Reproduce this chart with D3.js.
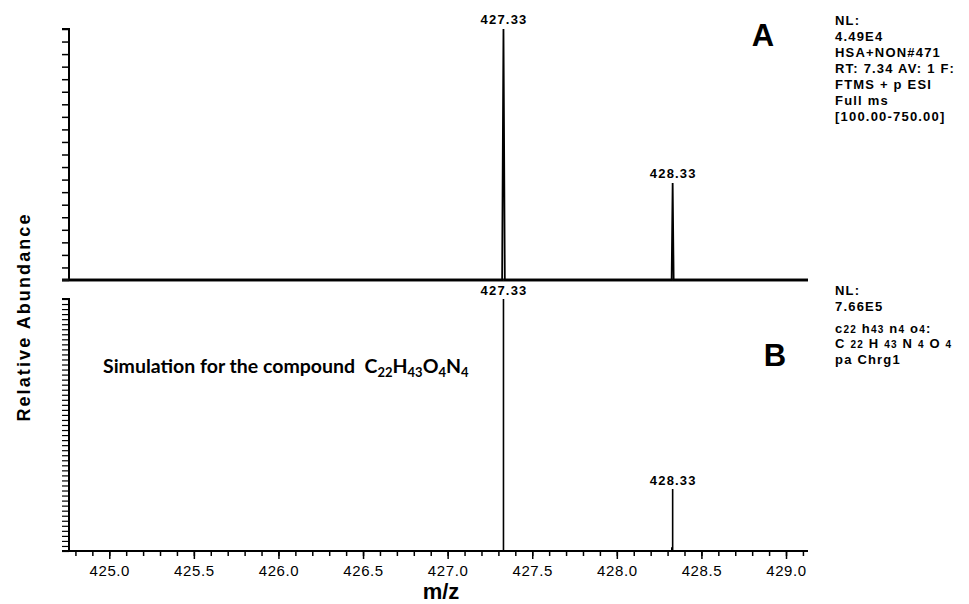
<!DOCTYPE html>
<html>
<head>
<meta charset="utf-8">
<script src="https://cdn.jsdelivr.net/npm/d3@7"></script>
<style>
  body { margin: 0; background: #fff; }
  text { font-family: "Liberation Sans", Arial, sans-serif; font-weight: bold; fill: #000; }
  .wide { font-size: 13px; letter-spacing: 1.2px; }
</style>
</head>
<body>
<div id="chart"></div>
<script>
const mzA = [424.76, 427.322, 427.33, 427.338, 428.324, 428.33, 428.336, 429.13]
const intA = [0, 0, 100, 0, 0, 38.6, 0, 0]
// simulated isotope sticks (B)
const mzB = [427.33, 428.325, 428.33]
const intB = [100, 1.5, 24.6]
// peak labels
const labelsA = [{ mz: 427.33, v: 100, t: '427.33' }, { mz: 428.33, v: 38.6, t: '428.33' }]
const labelsB = [{ mz: 427.33, v: 100, t: '427.33' }, { mz: 428.33, v: 24.6, t: '428.33' }]
const xTicks = [425.0, 425.5, 426.0, 426.5, 427.0, 427.5, 428.0, 428.5, 429.0]
const infoA = ['NL:', '4.49E4', 'HSA+NON#471', 'RT: 7.34  AV: 1 F:', 'FTMS + p ESI', 'Full ms', '[100.00-750.00]']

const W = 969, H = 604
const svg = d3.select('#chart').append('svg').attr('width', W).attr('height', H)

const x = d3.scaleLinear().domain([424.762, 429.13]).range([69, 808])
const yA = d3.scaleLinear().domain([0, 100]).range([280, 29])
const yB = d3.scaleLinear().domain([0, 100]).range([551, 299])

// panel A
const axA = svg.append('g').attr('transform', 'translate(69,0)')
  .call(d3.axisLeft(yA).tickValues(d3.range(0, 101, 5)).tickSize(7).tickFormat(''))
axA.selectAll('line').attr('stroke', '#000').attr('stroke-width', 1.5)
axA.select('.domain').attr('stroke', '#000').attr('stroke-width', 2).attr('d', 'M-7,29H0V280')

svg.append('line').attr('x1', 62).attr('x2', 808).attr('y1', yA(0)).attr('y2', yA(0))
  .attr('stroke', '#111').attr('stroke-width', 3)

const lineA = d3.line().x((d, i) => x(mzA[i])).y((d, i) => yA(intA[i]))
svg.append('path').datum(mzA).attr('d', lineA)
  .attr('fill', 'none').attr('stroke', '#000').attr('stroke-width', 1.8)

svg.selectAll('.labA').data(labelsA).enter().append('text')
  .attr('class', 'wide')
  .attr('x', d => x(d.mz) + 0.6).attr('y', d => yA(d.v) - 5)
  .attr('text-anchor', 'middle').text(d => d.t)

svg.append('text').attr('x', 763).attr('y', 46).attr('text-anchor', 'middle')
  .style('font-size', '31px').text('A')

svg.append('g').selectAll('text').data(infoA).enter().append('text')
  .attr('class', 'wide')
  .attr('x', 835).attr('y', (d, i) => 25 + i * 16).text(d => d)

// panel B
const axB = svg.append('g').attr('transform', 'translate(69,0)')
  .call(d3.axisLeft(yB).tickValues(d3.range(0, 101, 2)).tickSize(7).tickFormat(''))
axB.selectAll('line').attr('stroke', '#000').attr('stroke-width', 1.2)
axB.select('.domain').attr('stroke', '#000').attr('stroke-width', 2).attr('d', 'M-7,299H0V551')

const axX = svg.append('g').attr('transform', 'translate(0,551)')
  .call(d3.axisBottom(x).tickValues(d3.range(424.8, 429.15, 0.1)).tickSize(5).tickFormat(''))
axX.selectAll('line').attr('stroke', '#000').attr('stroke-width', 1.5)
axX.select('.domain').attr('stroke', '#000').attr('stroke-width', 2).attr('d', 'M62,0H808')

const axMaj = svg.append('g').attr('transform', 'translate(0,551)')
  .call(d3.axisBottom(x).tickValues(xTicks).tickSize(8).tickPadding(6).tickFormat(d3.format('.1f')))
axMaj.select('.domain').remove()
axMaj.selectAll('line').attr('stroke', '#000').attr('stroke-width', 1.5)
axMaj.selectAll('text').style('font-weight', 'normal').style('font-size', '15px')
  .style('letter-spacing', '0.6px')
  .style('font-family', '"Liberation Sans", Arial, sans-serif').attr('fill', '#222')

svg.selectAll('.stickB').data(mzB).enter().append('line')
  .attr('x1', d => x(d)).attr('x2', d => x(d))
  .attr('y1', yB(0)).attr('y2', (d, i) => yB(intB[i]))
  .attr('stroke', '#000').attr('stroke-width', 1.6)

svg.selectAll('.labB').data(labelsB).enter().append('text')
  .attr('class', 'wide')
  .attr('x', d => x(d.mz) + 0.6).attr('y', d => yB(d.v) - 4)
  .attr('text-anchor', 'middle').text(d => d.t)

svg.append('text').attr('x', 775).attr('y', 366).attr('text-anchor', 'middle')
  .style('font-size', '31px').text('B')

const infoB = svg.append('g').attr('class', 'wide')
infoB.append('text').attr('x', 835).attr('y', 295).text('NL:')
infoB.append('text').attr('x', 835).attr('y', 311).text('7.66E5')
const f1 = infoB.append('text').attr('x', 835).attr('y', 333)
f1.append('tspan').text('c')
f1.append('tspan').style('font-size', '10px').text('22')
f1.append('tspan').text(' h')
f1.append('tspan').style('font-size', '10px').text('43')
f1.append('tspan').text(' n')
f1.append('tspan').style('font-size', '10px').text('4')
f1.append('tspan').text(' o')
f1.append('tspan').style('font-size', '10px').text('4')
f1.append('tspan').text(':')
const f2 = infoB.append('text').attr('x', 835).attr('y', 348)
f2.append('tspan').text('C ')
f2.append('tspan').style('font-size', '10px').text('22')
f2.append('tspan').text(' H ')
f2.append('tspan').style('font-size', '10px').text('43')
f2.append('tspan').text(' N ')
f2.append('tspan').style('font-size', '10px').text('4')
f2.append('tspan').text(' O ')
f2.append('tspan').style('font-size', '10px').text('4')
infoB.append('text').attr('x', 835).attr('y', 364).text('pa Chrg1')

// simulation note
const sim = svg.append('text').attr('x', 103).attr('y', 373)
  .attr('xml:space', 'preserve')
  .style('font-family', 'Lato, "Open Sans", sans-serif').style('font-size', '19.5px')
  .style('white-space', 'pre')
sim.append('tspan').text('Simulation for the compound  C')
sim.append('tspan').attr('dy', 4).style('font-size', '13px').text('22')
sim.append('tspan').attr('dy', -4).text('H')
sim.append('tspan').attr('dy', 4).style('font-size', '13px').text('43')
sim.append('tspan').attr('dy', -4).text('O')
sim.append('tspan').attr('dy', 4).style('font-size', '13px').text('4')
sim.append('tspan').attr('dy', -4).text('N')
sim.append('tspan').attr('dy', 4).style('font-size', '13px').text('4')

// axis titles
svg.append('text').attr('transform', 'translate(30,317) rotate(-90)')
  .attr('text-anchor', 'middle').style('font-size', '18px').style('letter-spacing', '2.1px')
  .text('Relative Abundance')
svg.append('text').attr('x', 441).attr('y', 599).attr('text-anchor', 'middle')
  .style('font-size', '22px').text('m/z')
</script>
</body>
</html>
